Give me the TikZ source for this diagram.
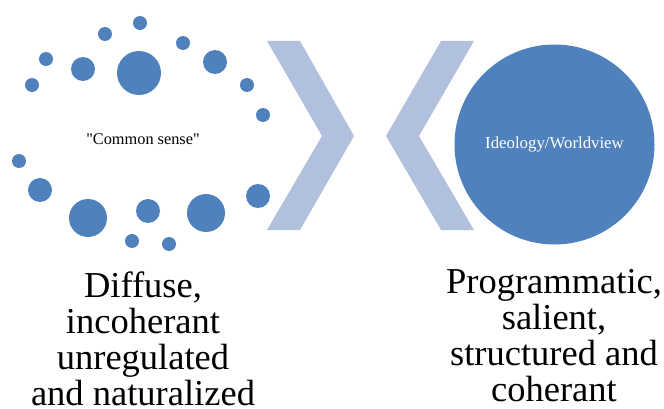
\documentclass[tikz,border=0pt]{standalone}
\usepackage{fontspec}
\setmainfont{Liberation Serif}
\usepackage{xcolor,tikz}
\usetikzlibrary{positioning}
\definecolor{dotblue}{RGB}{79,129,189}
\definecolor{chevblue}{RGB}{177,193,221}
\tikzset{dot/.style={fill=dotblue}}
\tikzset{chev/.style={fill=chevblue}}
\tikzset{caption/.style={align=center, inner sep=0pt, anchor=north, font=\fontsize{36.5}{36}\selectfont}}

\begin{document}
\begin{tikzpicture}[x=1pt,y=-1pt]
\useasboundingbox (0,0) rectangle (664,409);
%%%% common sense dots
\fill[dot] (140,23) circle (7);
\fill[dot] (105,34) circle (7);
\fill[dot] (46,59) circle (7);
\fill[dot] (32,85) circle (7);
\fill[dot] (83,69) circle (12);
\fill[dot] (139,73) circle (22);
\fill[dot] (183,43) circle (7);
\fill[dot] (215,62) circle (12);
\fill[dot] (247,85) circle (7);
\fill[dot] (263,115) circle (7);
\fill[dot] (19,161) circle (7);
\fill[dot] (40,190) circle (12);
\fill[dot] (88,218) circle (19);
\fill[dot] (148,211) circle (12);
\fill[dot] (206,213) circle (19);
\fill[dot] (258,196) circle (12);
\fill[dot] (132,241) circle (7);
\fill[dot] (169,244) circle (7);
\node (sense) at (143,139) {\fontsize{16.3}{16}\selectfont \textquotedbl Common sense\textquotedbl};
%%%% chevrons
\fill[chev] (267,41) -- (300,41) -- (354,136) -- (300,230) -- (267,230) -- (322,136) -- cycle;
\fill[chev] (441,41) -- (474,41) -- (419,136) -- (474,230) -- (441,230) -- (386,136) -- cycle;
%%%% ideology
\node[circle, fill=dotblue, minimum size=200pt, inner sep=0pt, text=white] (ideology) at (554.5,144.5) {\fontsize{16.8}{16}\selectfont Ideology/Worldview};
%%%% captions
\node[caption] (diffuse) at (143,272) {Diffuse,\\incoherant\\unregulated\\and naturalized};
\node[caption] (programmatic) at (554,269) {Programmatic,\\salient,\\structured and\\coherant};
\end{tikzpicture}
\end{document}
